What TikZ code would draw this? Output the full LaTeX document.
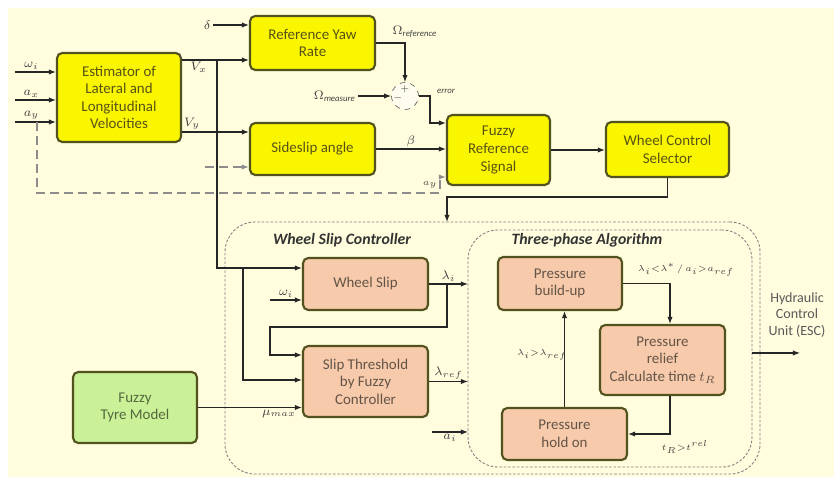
\documentclass[tikz,border=0pt]{standalone}
\usepackage{fontspec}
\setmainfont{Carlito}
\usepackage{tikz}
\usetikzlibrary{arrows.meta,positioning,calc}
\definecolor{bgcream}{RGB}{255,253,222}
\definecolor{boxyellow}{RGB}{250,246,0}
\definecolor{boxsalmon}{RGB}{246,202,170}
\definecolor{boxgreen}{RGB}{202,240,152}
\definecolor{boxedge}{RGB}{82,82,30}
\definecolor{ytext}{RGB}{88,82,20}
\definecolor{stext}{RGB}{100,84,72}
\definecolor{gtext}{RGB}{84,104,62}

\tikzset{
  block/.style={draw=boxedge,line width=1.2pt,rounded corners=3pt,align=center,
    font=\fontsize{8.5}{10}\selectfont,inner sep=2pt},
  yblock/.style={block,fill=boxyellow,text=ytext},
  sblock/.style={block,fill=boxsalmon,text=stext},
  gblock/.style={block,fill=boxgreen,text=gtext},
  sig/.style={-{Latex[length=4pt,width=3pt]},line width=0.6pt,draw=black!85},
  dsig/.style={sig,line width=1pt,draw=black!45,dash pattern=on 5pt off 3pt},
  lbl/.style={font=\scriptsize,inner sep=1pt,text=black!75},
  region/.style={draw=black!50,dash pattern=on 1.5pt off 1pt,line width=0.5pt,
    rounded corners=0.6cm,inner sep=0pt,outer sep=0pt},
  title/.style={font=\fontsize{9}{11}\selectfont\bfseries\itshape,text=black!80},
}

\begin{document}
\begin{tikzpicture}
    \useasboundingbox (0,0) rectangle (16.68,9.62);
    % paper
    \fill[white] (0,0) rectangle (16.68,9.62);
    \fill[bgcream] (0.16,0.08) rectangle (16.68,9.46);

    % upper chain
    \node[yblock,minimum width=2.48cm,minimum height=1.78cm] (est) at (2.38,7.67)
        {Estimator of\\Lateral and\\Longitudinal\\Velocities};
    \node[yblock,minimum width=2.5cm,minimum height=1.08cm] (yaw) at (6.25,8.76) {Reference Yaw\\Rate};
    \node[yblock,minimum width=2.5cm,minimum height=1.04cm] (slipang) at (6.25,6.64) {Sideslip angle};
    \node[circle,draw=black!60,dashed,fill=white!50!bgcream,minimum size=0.54cm] (sum) at (8.1,7.7) {};
    \node[lbl,font=\tiny] (sumplus) at (8.1,7.84) {$+$};
    \node[lbl,font=\tiny] (summinus) at (7.96,7.66) {$-$};
    \node[yblock,minimum width=2.06cm,minimum height=1.4cm] (fuzref) at (9.97,6.62) {Fuzzy\\Reference\\Signal};
    \node[yblock,minimum width=2.46cm,minimum height=1.1cm] (selector) at (13.35,6.63) {Wheel Control\\Selector};

    % controller regions
    \node[region,minimum width=10.7cm,minimum height=5.04cm] (slipctrl) at (9.85,2.66) {};
    \node[region,minimum width=5.68cm,minimum height=4.74cm] (algo) at (12.2,2.65) {};
    \node[title] (slipctrltitle) at (6.84,4.82) {Wheel Slip Controller};
    \node[title] (algotitle) at (11.74,4.82) {Three-phase Algorithm};

    % lower blocks
    \node[sblock,minimum width=2.5cm,minimum height=1.04cm] (wslip) at (7.31,3.94) {Wheel Slip};
    \node[sblock,minimum width=2.5cm,minimum height=1.42cm] (thresh) at (7.31,1.99)
        {Slip Threshold\\by Fuzzy\\Controller};
    \node[gblock,minimum width=2.48cm,minimum height=1.42cm] (tyre) at (2.7,1.47) {Fuzzy\\Tyre Model};
    \node[sblock,minimum width=2.48cm,minimum height=1.06cm] (buildup) at (11.2,3.95) {Pressure\\build-up};
    \node[sblock,minimum width=2.5cm,minimum height=1.4cm] (relief) at (13.25,2.42)
        {Pressure\\relief\\Calculate time $t_R$};
    \node[sblock,minimum width=2.5cm,minimum height=1.04cm] (hold) at (11.29,0.94) {Pressure\\hold on};

    % free ends
    \coordinate (wiin) at (0.3,8.18);
    \coordinate (axin) at (0.3,7.62);
    \coordinate (ayin) at (0.3,7.18);
    \coordinate (aytap) at (0.74,7.18);
    \coordinate (aybend) at (8.8,5.76);
    \coordinate (deltain) at (4.26,9.12);
    \coordinate (vxsplit) at (4.34,8.42);
    \coordinate (vxbranch) at (4.86,4.26);
    \coordinate (rin) at (4.1,6.28);
    \coordinate (omin) at (7.16,7.7);
    \coordinate (errbend) at (8.6,7.7);
    \coordinate (drop) at (8.94,5.68);
    \coordinate (wiwheel) at (5.4,3.62);
    \coordinate (fbsplit) at (8.94,3.94);
    \coordinate (fbbend) at (5.4,3.08);
    \coordinate (aiin) at (8.64,0.98);
    \coordinate (hcu) at (16.0,2.56);

    % estimator inputs
    \draw[sig] (wiin) -- node[lbl,above,pos=0.4] {$\omega_i$} (wiin -| est.west);
    \draw[sig] (axin) -- node[lbl,above,pos=0.4] {$a_x$} (axin -| est.west);
    \draw[sig] (ayin) -- node[lbl,above,pos=0.4] {$a_y$} (ayin -| est.west);
    \draw[dsig] (aytap) |- (aybend) |- ($(fuzref.west)+(0,-0.54)$);
    \node[lbl,font=\tiny] (aylbl) at (8.6,5.92) {$a_y$};

    % velocities
    \draw[sig] (est.east |- vxsplit) -- node[lbl,below,pos=0.25] {$V_x$} (yaw.west |- vxsplit);
    \draw[sig] (vxsplit) |- (wslip.west |- vxbranch);
    \draw[sig] (vxbranch) |- (thresh.west |- 0,2.02);
    \draw[sig] (est.east |- 0,6.98) -- node[lbl,above,pos=0.15] {$V_y$} (slipang.west |- 0,6.98);
    \draw[dsig] (rin) -- (slipang.west |- rin);
    \draw[sig] (deltain) node[lbl,left] {$\delta$} -- (yaw.west |- deltain);

    % yaw rate error
    \draw[sig] (yaw.east) -| (sum.north);
    \node[lbl] (omreflbl) at (8.3,8.98) {$\Omega_{\mathit{reference}}$};
    \draw[sig] (omin) node[lbl,left] {$\Omega_{\mathit{measure}}$} -- (sum.west);
    \draw[sig] (sum.east) -- (errbend) |- (fuzref.west |- 0,7.16);
    \node[lbl,font=\tiny] (errlbl) at (8.92,7.8) {$\mathit{error}$};
    \draw[sig] (slipang.east) -- node[lbl,above] {$\beta$} (fuzref.west |- slipang.east);
    \draw[sig] (fuzref.east) -- (fuzref.east -| selector.west);
    \draw[sig] (selector.south) |- (drop) -- (drop |- slipctrl.north);

    % wheel slip controller
    \draw[sig] (wiwheel) -- node[lbl,above] {$\omega_i$} (wslip.west |- wiwheel);
    \draw[sig] (wslip.east) -- node[lbl,above] {$\lambda_i$} (wslip.east -| algo.west);
    \draw[sig] (fbsplit) |- (fbbend) |- (thresh.west |- 0,2.52);
    \draw[sig] (thresh.east) -- node[lbl,above] {$\lambda_{ref}$} (thresh.east -| algo.west);
    \draw[sig] (aiin) -- node[lbl,below] {$a_i$} (aiin -| algo.west);
    \draw[sig] (tyre.east) -- node[lbl,below,pos=0.78] {$\mu_{max}$} (tyre.east -| thresh.west);

    % three-phase loop
    \draw[sig] (buildup.east) -| (relief.north -| 13.4,0);
    \node[lbl,font=\tiny] (uplbl) at (13.72,4.22) {$\lambda_i{<}\lambda^*\,/\,a_i{>}a_{ref}$};
    \draw[sig] (relief.south -| 13.4,0) |- (hold.east);
    \node[lbl,font=\tiny] (holdlbl) at (13.7,0.68) {$t_R{>}t^{rel}$};
    \draw[sig] (hold.north) -- (hold.north |- buildup.south);
    \node[lbl,font=\tiny] (backlbl) at (10.84,2.52) {$\lambda_i{>}\lambda_{ref}$};

    % output
    \draw[sig] (algo.east |- hcu) -- (hcu);
    \node[lbl,align=center,font=\fontsize{8}{9.5}\selectfont,text=black!65] (hculbl) at (15.94,3.32)
        {Hydraulic\\Control\\Unit (ESC)};
\end{tikzpicture}
\end{document}
